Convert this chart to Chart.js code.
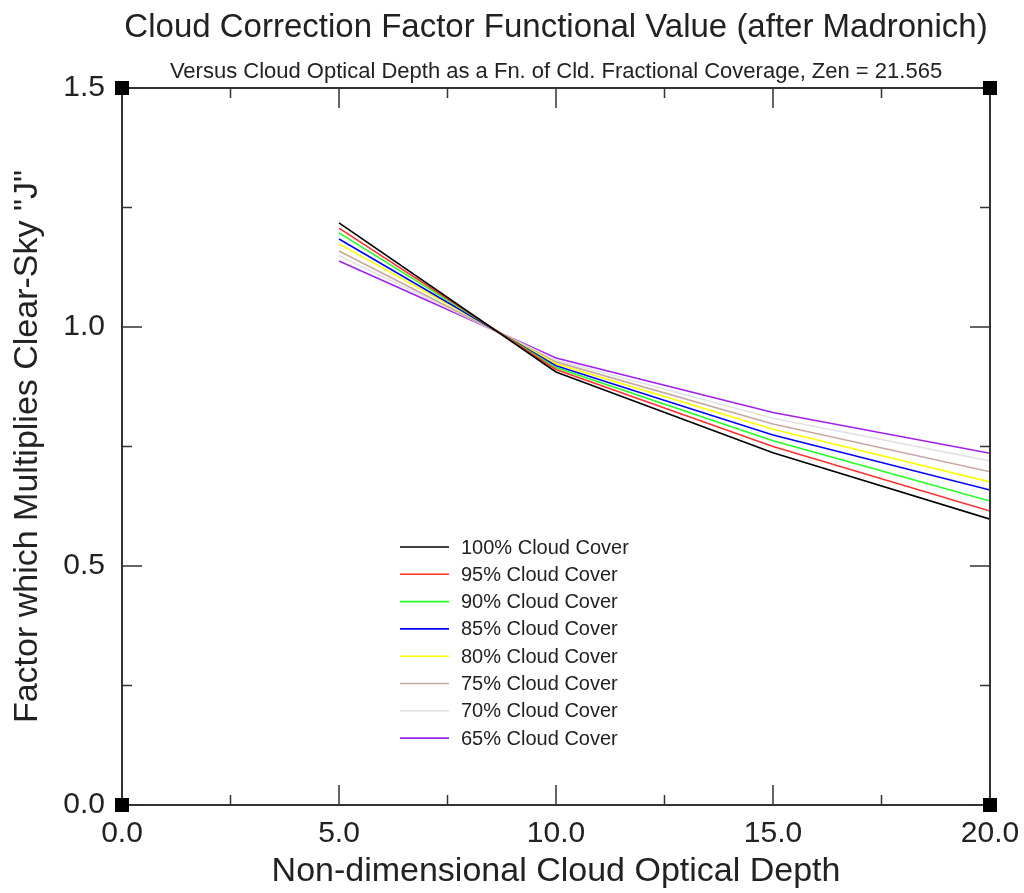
<!DOCTYPE html>
<html>
<head>
<meta charset="utf-8">
<script src="https://cdn.jsdelivr.net/npm/chart.js@4.4.1/dist/chart.umd.min.js"></script>
<style>
  html, body { margin: 0; padding: 0; background: #fff; }
  #wrap { width: 1024px; height: 893px; }
</style>
</head>
<body>
<div id="wrap"><canvas id="c" width="1024" height="893"></canvas></div>
<script>
var depths = [5, 10, 15, 20];
var coverLabels = ["100% Cloud Cover", "95% Cloud Cover", "90% Cloud Cover", "85% Cloud Cover",
                   "80% Cloud Cover", "75% Cloud Cover", "70% Cloud Cover", "65% Cloud Cover"];
var cover100 = [1.218, 0.906, 0.737, 0.598];
var cover95  = [1.207, 0.911, 0.750, 0.615];
var cover90  = [1.197, 0.915, 0.762, 0.636];
var cover85  = [1.184, 0.919, 0.774, 0.659];
var cover80  = [1.174, 0.923, 0.786, 0.676];
var cover75  = [1.159, 0.927, 0.797, 0.697];
var cover70  = [1.149, 0.931, 0.809, 0.720];
var cover65  = [1.138, 0.935, 0.821, 0.736];
var lineColors = ["#000000", "#ff3030", "#22ff22", "#0000ff", "#ffff00", "#c8a8a2", "#e2e2e2", "#a020f0"];
var xMajor = [0, 5, 10, 15, 20];
var xMinor = [2.5, 7.5, 12.5, 17.5];
var yMajor = [0, 0.5, 1.0, 1.5];
var yMinor = [0.25, 0.75, 1.25];

var allSeries = [cover100, cover95, cover90, cover85, cover80, cover75, cover70, cover65];
var FONT = "'Liberation Sans', Arial, sans-serif";
var INK = "#222";

var datasets = [];
for (var i = 0; i < allSeries.length; i++) {
    var pts = [];
    for (var j = 0; j < depths.length; j++) {
        pts.push({x: depths[j], y: allSeries[i][j]});
    }
    datasets.push({
        label: coverLabels[i],
        data: pts,
        borderColor: lineColors[i],
        backgroundColor: lineColors[i],
        borderWidth: 1.6,
        pointRadius: 0,
        tension: 0,
        fill: false
    });
}

// frame, inward ticks, corner squares, legend inside the plot
var framePlugin = {
    id: "frame",
    afterDraw: function(chart) {
        var ctx = chart.ctx;
        var a = chart.chartArea;
        var xs = chart.scales.x, ys = chart.scales.y;
        ctx.save();
        ctx.strokeStyle = "#333";
        ctx.lineWidth = 2;
        ctx.strokeRect(a.left, a.top, a.right - a.left, a.bottom - a.top);

        ctx.lineWidth = 1.5;
        ctx.beginPath();
        function xt(v, len) {
            var p = xs.getPixelForValue(v);
            ctx.moveTo(p, a.bottom); ctx.lineTo(p, a.bottom - len);
            ctx.moveTo(p, a.top); ctx.lineTo(p, a.top + len);
        }
        function yt(v, len) {
            var p = ys.getPixelForValue(v);
            ctx.moveTo(a.left, p); ctx.lineTo(a.left + len, p);
            ctx.moveTo(a.right, p); ctx.lineTo(a.right - len, p);
        }
        xMajor.forEach(function(v) { xt(v, 20); });
        xMinor.forEach(function(v) { xt(v, 10); });
        yMajor.forEach(function(v) { yt(v, 20); });
        yMinor.forEach(function(v) { yt(v, 10); });
        ctx.stroke();

        ctx.fillStyle = "#000";
        var s = 14;
        [[a.left, a.top], [a.right, a.top], [a.left, a.bottom], [a.right, a.bottom]].forEach(function(c) {
            ctx.fillRect(c[0] - s / 2, c[1] - s / 2, s, s);
        });

        // legend
        var lx = a.left + 278, ly = a.top + 459, row = 27.3;
        ctx.font = "20px " + FONT;
        ctx.textBaseline = "middle";
        ctx.textAlign = "left";
        chart.data.datasets.forEach(function(ds, k) {
            var yy = ly + k * row;
            ctx.strokeStyle = ds.borderColor;
            ctx.lineWidth = 1.6;
            ctx.beginPath();
            ctx.moveTo(lx, yy); ctx.lineTo(lx + 49, yy);
            ctx.stroke();
            ctx.fillStyle = INK;
            ctx.fillText(ds.label, lx + 61, yy + 1);
        });
        ctx.restore();
    }
};

new Chart(document.getElementById("c"), {
    type: "line",
    data: { datasets: datasets },
    options: {
        responsive: false,
        animation: false,
        layout: { padding: { left: 0, right: 34, top: 0, bottom: 0 } },
        plugins: {
            legend: { display: false },
            tooltip: { enabled: false },
            title: {
                display: true,
                fullSize: false,
                text: "Cloud Correction Factor Functional Value (after Madronich)",
                color: INK,
                font: { family: FONT, size: 33, weight: "normal", lineHeight: 1.2 },
                padding: { top: 8, bottom: 2 }
            },
            subtitle: {
                display: true,
                fullSize: false,
                text: "Versus Cloud Optical Depth as a Fn. of Cld. Fractional Coverage, Zen = 21.565",
                color: INK,
                font: { family: FONT, size: 22, weight: "normal", lineHeight: 1.2 },
                padding: { top: 9.2, bottom: 2.8 }
            }
        },
        scales: {
            x: {
                type: "linear",
                min: 0, max: 20,
                grid: { display: false, drawTicks: false },
                border: { display: false },
                ticks: {
                    stepSize: 5, padding: 11, color: INK,
                    font: { family: FONT, size: 30, lineHeight: 1.2 },
                    callback: function(v) { return v.toFixed(1); }
                },
                title: {
                    display: true, text: "Non-dimensional Cloud Optical Depth", color: INK,
                    font: { family: FONT, size: 34, lineHeight: 1.2 },
                    padding: { top: 2, bottom: 0.6 }
                },
                afterFit: function(s) {
                    s.height = 88;
                    s.paddingLeft = 0;
                    s.paddingRight = 0;
                }
            },
            y: {
                min: 0, max: 1.5,
                grid: { display: false, drawTicks: false },
                border: { display: false },
                ticks: {
                    stepSize: 0.5, padding: 17, color: INK,
                    font: { family: FONT, size: 30, lineHeight: 1.2 },
                    callback: function(v) { return v.toFixed(1); }
                },
                title: {
                    display: true, text: "Factor which Multiplies Clear-Sky \"J\"", color: INK,
                    font: { family: FONT, size: 34, lineHeight: 1.2 },
                    padding: { top: 7.6, bottom: 2 }
                },
                afterFit: function(s) {
                    s.width = 122;
                    s.paddingTop = 0;
                    s.paddingBottom = 0;
                }
            }
        }
    },
    plugins: [framePlugin]
});
</script>
</body>
</html>
